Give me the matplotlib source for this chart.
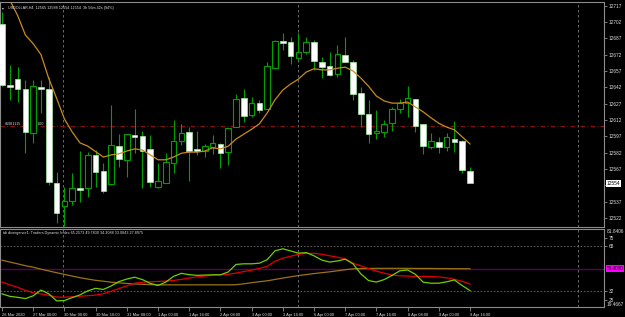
# USDOLLAR H4 chart with Traders Dynamic Index sub-window (MT4 style, black background)

import matplotlib
matplotlib.use("Agg")
import numpy as np
import matplotlib.pyplot as plt

plt.rcParams['font.family'] = ['Liberation Sans', 'DejaVu Sans']

# ── candles (H4) ──────────────────────────────────────────────────────────────
opens = [12700, 12644, 12650, 12640.5, 12600, 12642, 12640.5, 12554, 12533, 12537.5,
         12549.5, 12549.5, 12580, 12565, 12553, 12588, 12575, 12598, 12597, 12585.5,
         12550.5, 12554, 12572.5, 12592.5, 12601, 12585.5, 12583.5, 12587, 12590, 12582.5,
         12605.5, 12632, 12616.5, 12627.5, 12622, 12659.5, 12684.5, 12683.5, 12669, 12674.5,
         12683.5, 12665, 12661.5, 12654, 12671.5, 12665, 12637, 12617.5, 12600, 12601,
         12609, 12622, 12627.5, 12631.5, 12608.5, 12587, 12592, 12587, 12594.5, 12592.5,
         12565]
highs = [12711, 12662.5, 12660.5, 12648.5, 12648.5, 12648.5, 12651.5, 12564, 12550.5, 12563.5,
         12583.5, 12582.5, 12584.5, 12572.5, 12626, 12599, 12599.5, 12622, 12602, 12598,
         12572.5, 12581.5, 12612, 12608.5, 12605.5, 12602, 12590, 12598, 12591, 12605,
         12636, 12640.5, 12633, 12630.5, 12665, 12685, 12692, 12688, 12692, 12688,
         12685, 12670, 12674.5, 12681, 12688, 12667, 12642.5, 12630.5, 12621, 12612,
         12624, 12631.5, 12643, 12631.5, 12608.5, 12600, 12596.5, 12600, 12611, 12593.5,
         12569]
lows = [12643, 12630, 12628.5, 12581.5, 12591, 12618.5, 12552.5, 12517.5, 12514.5, 12534,
        12536.5, 12541.5, 12550.5, 12545, 12552.5, 12569, 12559.5, 12581.5, 12549.5, 12550.5,
        12549.5, 12554, 12563.5, 12589, 12556, 12580, 12578, 12581, 12568, 12570.5,
        12605.5, 12610, 12615, 12618.5, 12622, 12659.5, 12676.5, 12663.5, 12667, 12672.5,
        12658, 12650.5, 12652.5, 12651.5, 12665, 12630.5, 12605.5, 12591, 12594.5, 12596.5,
        12602, 12618.5, 12615, 12601, 12581, 12585.5, 12581.5, 12583.5, 12582.5, 12563.5,
        12554]
closes = [12644, 12642, 12640.5, 12601, 12643, 12640.5, 12555, 12526.5, 12537.5, 12549.5,
          12547.5, 12580, 12564.5, 12547, 12589, 12576, 12599, 12596.5, 12583.5, 12555,
          12556, 12573.5, 12592.5, 12600, 12583.5, 12583.5, 12588, 12591, 12581.5, 12604.5,
          12631.5, 12615.5, 12627.5, 12621, 12661.5, 12684.5, 12682.5, 12671, 12674.5, 12683.5,
          12666, 12660.5, 12653, 12672.5, 12665, 12636, 12617.5, 12599, 12602, 12608.5,
          12622, 12627.5, 12632, 12606.5, 12588, 12592.5, 12587, 12596.5, 12592, 12566,
          12554]

# moving average on price, starts at the second candle
ma_price = [12722, 12708, 12690, 12682, 12672, 12650, 12632, 12613, 12601, 12591,
            12588, 12583, 12578, 12580, 12581, 12583.5, 12585.5, 12584.5, 12580, 12575.5,
            12575.5, 12578, 12581.5, 12582.5, 12582.5, 12583.5, 12586.5, 12585.5, 12588, 12594.5,
            12599, 12603.5, 12608.5, 12618.5, 12630.5, 12639.5, 12645, 12649.5, 12656, 12659,
            12658, 12658, 12659.5, 12660.5, 12657, 12650.5, 12643, 12634, 12629.5, 12627.5,
            12627.5, 12628.5, 12624, 12619.5, 12614, 12609, 12605.5, 12603, 12596.5, 12590]

order_price = 12606.5
last_price = 12554
price_ticks = [12522, 12537, 12552, 12567, 12582, 12597, 12612, 12627, 12642, 12657,
               12672, 12687, 12702, 12717]

# ── TDI lines ─────────────────────────────────────────────────────────────────
tdi_price = [30, 28, 27.2, 26.2, 28.4, 33, 30, 24.4, 24.6, 27,
             29.2, 32.4, 34.4, 33.5, 36.3, 39.8, 41.8, 43.3, 41.4, 38.4,
             36.7, 39.4, 44, 46.4, 45.3, 44.8, 45, 45.2, 45.2, 47.5,
             53.5, 54, 54, 54.5, 57.3, 64.4, 66, 64.3, 62.5, 63,
             60.4, 57, 55.4, 56.3, 57.7, 54, 46, 40.6, 39.4, 41.4,
             44.7, 48.4, 49.1, 45.6, 39.3, 38.5, 38.5, 39.6, 41.1, 36.6,
             32.6]
tdi_signal = [39.4, 37.2, 35.2, 32.8, 30.9, 29.9, 28.8, 27.4, 27.3, 27.6,
              28.1, 28.5, 29, 30.1, 32.1, 34.2, 36.4, 38.5, 39.3, 39.6,
              39.9, 40.2, 40.7, 41.6, 42.6, 43.6, 44.2, 44.9, 45.3, 45.6,
              46.6, 47.8, 49, 50.4, 52, 56, 58.5, 60, 61.6, 62.3,
              62.4, 61.6, 60.4, 59.3, 58, 54.5, 52.3, 50.2, 48.1, 46.5,
              45.1, 44.4, 44.2, 43.9, 43.9, 43.8, 43.5, 42.8, 41.6, 40,
              37.8]
tdi_base = [56.9, 55.4, 54, 52.5, 51.3, 49.7, 48.3, 46.9, 45.5, 44.2,
            42.9, 41.8, 40.8, 40.1, 39.3, 38.8, 38.3, 37.9, 37.6, 37.4,
            37.2, 37.2, 37.2, 37.2, 37.2, 37.2, 37.2, 37.2, 37.2, 37.2,
            37.3, 38, 38.9, 39.7, 40.4, 41.5, 42.6, 43.6, 44.6, 45.4,
            46.2, 46.9, 47.6, 48.4, 49.3, 50, 50.2, 50.3, 50.4, 50.4,
            50.4, 50.4, 50.4, 50.3, 50.3, 50.3, 50.2, 50.2, 50.1, 50.1,
            50]
tdi_levels = [32, 68]
tdi_ticks = [25, 32, 68, 75]
tdi_min, tdi_max = 19.4667, 81.8406

# ── time axis ─────────────────────────────────────────────────────────────────
time_labels = ["26 Mar 2020", "27 Mar 00:00", "30 Mar 00:00", "30 Mar 16:00",
               "31 Mar 08:00", "1 Apr 00:00", "1 Apr 16:00", "2 Apr 08:00",
               "3 Apr 00:00", "3 Apr 16:00", "6 Apr 00:00", "7 Apr 00:00",
               "7 Apr 16:00", "8 Apr 08:00", "9 Apr 00:00", "9 Apr 16:00"]

# ── colours / sizes ───────────────────────────────────────────────────────────
GREEN = '#00a000'
TEXT = '#dcdcdc'
FRAME = '#8c8c8c'
FS_PRICE = 3.4
FS_TIME = 2.9
FS_TITLE = 2.7

W, H = 625, 317
fig = plt.figure(figsize=(W / 100, H / 100), dpi=100, facecolor='black')


def px_box(left, top, right, bottom):
    """axes rectangle from pixel edges"""
    return [left / W, 1 - bottom / H, (right - left) / W, (bottom - top) / H]


ax = fig.add_axes(px_box(0, 2, 604, 227), facecolor='black')
ax2 = fig.add_axes(px_box(0, 229, 604, 307), facecolor='black')

x = np.arange(len(opens))
o = np.array(opens)
h = np.array(highs)
l = np.array(lows)
c = np.array(closes)
up = c >= o

# ── main pane ─────────────────────────────────────────────────────────────────
ax.vlines(x, l, h, color=GREEN, lw=0.8, zorder=2)
body_lo = np.minimum(o, c)
body_h = np.maximum(np.abs(c - o), 0.6)
ax.bar(x[up], body_h[up], bottom=body_lo[up], width=0.74,
       facecolor='black', edgecolor=GREEN, lw=0.8, zorder=3)
ax.bar(x[~up], body_h[~up], bottom=body_lo[~up], width=0.74,
       facecolor='white', edgecolor='#a8e8a8', lw=0.5, zorder=3)

ax.plot(x[1:], ma_price, color='#c88c1c', lw=0.9, zorder=4)
ax.axhline(order_price, color='#8a1010', lw=0.8, ls=(0, (4, 2, 1, 2)), zorder=1)

ax.set_xlim(-0.256, 77.18)
ax.set_ylim(12513.8, 12720.3)
ax.set_xticks([])
ax.yaxis.tick_right()
ax.set_yticks(price_ticks)
# the tick under the current-price box carries no label
ax.set_yticklabels(['' if p == 12552 else str(p) for p in price_ticks])
ax.tick_params(axis='y', labelsize=FS_PRICE, labelcolor=TEXT, color=FRAME,
               length=2, width=0.6, pad=1.5)

ax.text(1.004, last_price, str(last_price), transform=ax.get_yaxis_transform(),
        fontsize=FS_PRICE, color='black', va='center', ha='left', clip_on=False, zorder=10,
        bbox=dict(facecolor='white', edgecolor='none', pad=0.6))

# order label on the left
ax.text(0.4, order_price + 2, "#5981115", fontsize=FS_TITLE, color=TEXT,
        va='center', ha='left', zorder=6)
ax.text(4.5, order_price + 2, "1.00", fontsize=FS_TITLE, color=TEXT,
        va='center', ha='left', zorder=6)

# ── TDI pane ──────────────────────────────────────────────────────────────────
ax2.axhline(50, color='#5c005c', lw=1.0, zorder=1)
for lvl in tdi_levels:
    ax2.axhline(lvl, color='#6a6a6a', lw=0.6, ls=(0, (2, 2)), zorder=1)
ax2.plot(x, tdi_base, color='#9a7410', lw=0.9, zorder=2)
ax2.plot(x, tdi_signal, color='#e00000', lw=0.9, zorder=3)
ax2.plot(x, tdi_price, color='#6cd000', lw=0.9, zorder=4)

ax2.set_xlim(-0.256, 77.18)
ax2.set_ylim(tdi_min, tdi_max)
ax2.yaxis.tick_right()
ax2.set_yticks(tdi_ticks)
ax2.set_yticklabels([str(t) for t in tdi_ticks])
ax2.tick_params(axis='y', labelsize=FS_PRICE, labelcolor=TEXT, color=FRAME,
                length=2, width=0.6, pad=1.5)
ytr = ax2.get_yaxis_transform()
ax2.text(1.005, tdi_max, f"{tdi_max:.4f}", transform=ytr, fontsize=FS_PRICE, color=TEXT,
         va='top', ha='left', clip_on=False)
ax2.text(1.005, tdi_min, f"{tdi_min:.4f}", transform=ytr, fontsize=FS_PRICE, color=TEXT,
         va='bottom', ha='left', clip_on=False)
ax2.text(1.004, 50, "50.0000", transform=ytr, fontsize=FS_PRICE, color='black',
         va='center', ha='left', clip_on=False, zorder=10,
         bbox=dict(facecolor='#ff00ff', edgecolor='none', pad=0.6))

ax2.set_xticks(x[::4])
ax2.set_xticklabels(time_labels, ha='left')
ax2.tick_params(axis='x', labelsize=FS_TIME, labelcolor=TEXT, color=FRAME,
                length=3, width=0.6, pad=1.5)

# ── separators, frames, titles ───────────────────────────────────────────────
for a in (ax, ax2):
    for sep in (7.85, 37.95, 73.9):
        a.axvline(sep, color='#7a7a7a', lw=0.6, ls=(0, (3, 3)), zorder=0)
    for s in a.spines.values():
        s.set_color(FRAME)
        s.set_linewidth(0.8)

fig.text(2 / W, 1 - 8 / H, "\u25be", fontsize=FS_TITLE, color=TEXT, va='center', ha='left')
fig.text(8 / W, 1 - 8 / H, "USDOLLAR,H4  12565 12588 12554 12554  3h 56m 42s (94%)",
         fontsize=FS_TITLE, color=TEXT, va='center', ha='left')
fig.text(3 / W, 1 - 233 / H,
         "tdi divergence1: Traders Dynamic Index 65.2573 49.7830 34.3088 33.0843 27.8975",
         fontsize=FS_TITLE, color=TEXT, va='center', ha='left')

plt.savefig("out.png", dpi=100, facecolor='black')
plt.close()
